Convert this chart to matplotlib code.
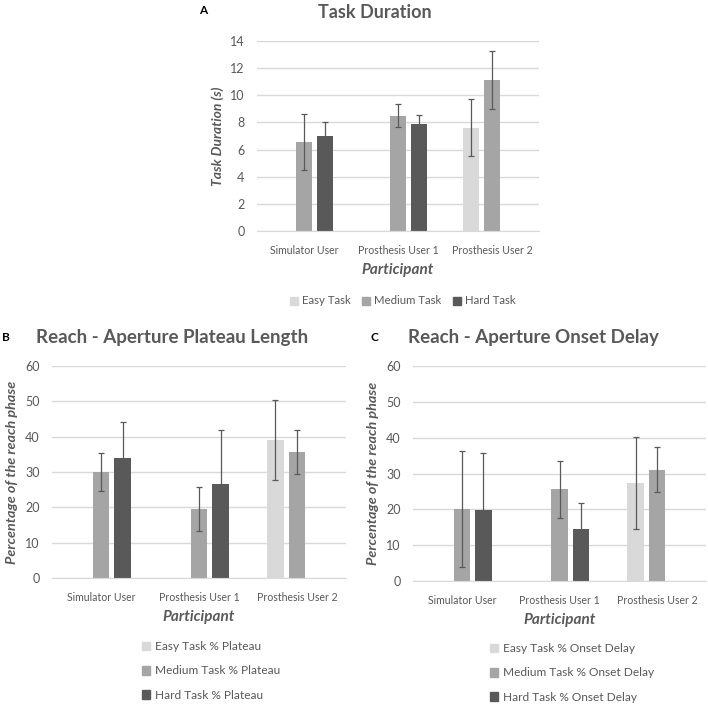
import numpy as np
import matplotlib
matplotlib.use("Agg")
import matplotlib.pyplot as plt
from matplotlib.patches import Patch

plt.rcParams['font.family'] = ['Lato', 'DejaVu Sans']

participants = ["Simulator User", "Prosthesis User 1", "Prosthesis User 2"]
nan = np.nan

# panel A - task duration (s)
dur_easy = [nan, nan, 7.62]
dur_easy_err = [nan, nan, 2.07]
dur_medium = [6.58, 8.48, 11.14]
dur_medium_err = [2.05, 0.85, 2.15]
dur_hard = [7.03, 7.92, nan]
dur_hard_err = [1.0, 0.65, nan]

# panel B - plateau length (% of reach phase)
plat_easy = [nan, nan, 39.0]
plat_easy_err = [nan, nan, 11.25]
plat_medium = [30.1, 19.5, 35.7]
plat_medium_err = [5.4, 6.3, 6.2]
plat_hard = [33.9, 26.7, nan]
plat_hard_err = [10.3, 15.1, nan]

# panel C - onset delay (% of reach phase)
ons_easy = [nan, nan, 27.3]
ons_easy_err = [nan, nan, 12.8]
ons_medium = [20.1, 25.6, 31.1]
ons_medium_err = [16.3, 8.0, 6.2]
ons_hard = [19.8, 14.6, nan]
ons_hard_err = [15.9, 7.2, nan]

colors = ["#d9d9d9", "#a5a5a5", "#595959"]
text_c = "#595959"
grid_c = "#d9d9d9"
err_c = "#595959"

W, H = 708, 706
fig = plt.figure(figsize=(W / 100, H / 100), dpi=100)


def px_axes(left, top, right, bottom):
    return fig.add_axes([left / W, 1 - bottom / H, (right - left) / W, (bottom - top) / H])


def draw_panel(ax, series, errs, ymax, ystep):
    x = np.arange(len(participants))
    offsets = [-0.22, 0, 0.22]
    for vals, e, off, c in zip(series, errs, offsets, colors):
        vals = np.array(vals)
        e = np.array(e)
        ok = ~np.isnan(vals)
        ax.bar(x[ok] + off, vals[ok], width=0.17, color=c, zorder=2)
        ax.errorbar(x[ok] + off, vals[ok], yerr=e[ok], fmt="none", ecolor=err_c,
                    elinewidth=0.9, capsize=2.5, capthick=0.9, zorder=3)
    ax.set_xlim(-0.5, 2.5)
    ax.set_ylim(0, ymax)
    ax.set_yticks(np.arange(0, ymax + 1, ystep))
    ax.set_xticks(x)
    ax.set_xticklabels(participants)
    ax.yaxis.grid(True, color=grid_c, lw=1, zorder=0)
    ax.set_axisbelow(True)
    for s in ["top", "right", "left"]:
        ax.spines[s].set_visible(False)
    ax.spines["bottom"].set_color(grid_c)
    ax.tick_params(length=0, colors=text_c)
    ax.tick_params(axis="x", pad=10, labelsize=7.6)
    ax.tick_params(axis="y", pad=9, labelsize=9)
    ax.set_xlabel("Participant", fontsize=11, fontweight="bold", fontstyle="italic",
                  color=text_c, labelpad=5)


# A
axA = px_axes(257, 41, 539, 231)
draw_panel(axA, [dur_easy, dur_medium, dur_hard],
           [dur_easy_err, dur_medium_err, dur_hard_err], 14, 2)
axA.set_ylabel("Task Duration (s)", fontsize=10, fontweight="bold", fontstyle="italic",
               color=text_c, labelpad=4)
fig.text(375 / W, 1 - 13 / H, "Task Duration", ha="center", va="center",
         fontsize=13, fontweight="bold", color=text_c)
fig.text(203 / W, 1 - 11 / H, "A", ha="center", va="center", fontsize=8.5, fontweight="bold")
handles = [Patch(color=c) for c in colors]
fig.legend(handles, ["Easy Task", "Medium Task", "Hard Task"], loc="center",
           bbox_to_anchor=(403 / W, 1 - 301 / H), ncol=3, frameon=False, borderpad=0,
           handlelength=0.7, handleheight=0.7, handletextpad=0.35, columnspacing=1.0,
           labelcolor=text_c, fontsize=8.2)

# B
axB = px_axes(52, 366, 346, 578)
draw_panel(axB, [plat_easy, plat_medium, plat_hard],
           [plat_easy_err, plat_medium_err, plat_hard_err], 60, 10)
axB.set_ylabel("Percentage of the reach phase", fontsize=10.4, fontweight="bold",
               fontstyle="italic", color=text_c, labelpad=5)
fig.text(36 / W, 1 - 337 / H, "Reach - Aperture Plateau Length", ha="left", va="center",
         fontsize=13.5, fontweight="bold", color=text_c)
fig.text(6 / W, 1 - 337 / H, "B", ha="center", va="center", fontsize=8.5, fontweight="bold")
fig.legend(handles, ["Easy Task % Plateau", "Medium Task % Plateau", "Hard Task % Plateau"],
           loc="center left", bbox_to_anchor=(136 / W, 1 - 671 / H), ncol=1, frameon=False,
           borderpad=0, handlelength=0.7, handleheight=0.7, handletextpad=0.35,
           labelspacing=1.1, labelcolor=text_c, fontsize=8.6)

# C
axC = px_axes(413, 366, 706, 581)
draw_panel(axC, [ons_easy, ons_medium, ons_hard],
           [ons_easy_err, ons_medium_err, ons_hard_err], 60, 10)
axC.set_ylabel("Percentage of the reach phase", fontsize=10.4, fontweight="bold",
               fontstyle="italic", color=text_c, labelpad=5)
fig.text(408 / W, 1 - 337 / H, "Reach - Aperture Onset Delay", ha="left", va="center",
         fontsize=13.5, fontweight="bold", color=text_c)
fig.text(374 / W, 1 - 337 / H, "C", ha="center", va="center", fontsize=8.5, fontweight="bold")
fig.legend(handles, ["Easy Task % Onset Delay", "Medium Task % Onset Delay",
                     "Hard Task % Onset Delay"],
           loc="center left", bbox_to_anchor=(484 / W, 1 - 673 / H), ncol=1, frameon=False,
           borderpad=0, handlelength=0.7, handleheight=0.7, handletextpad=0.35,
           labelspacing=1.1, labelcolor=text_c, fontsize=8.6)

fig.savefig("out.png", dpi=100)
